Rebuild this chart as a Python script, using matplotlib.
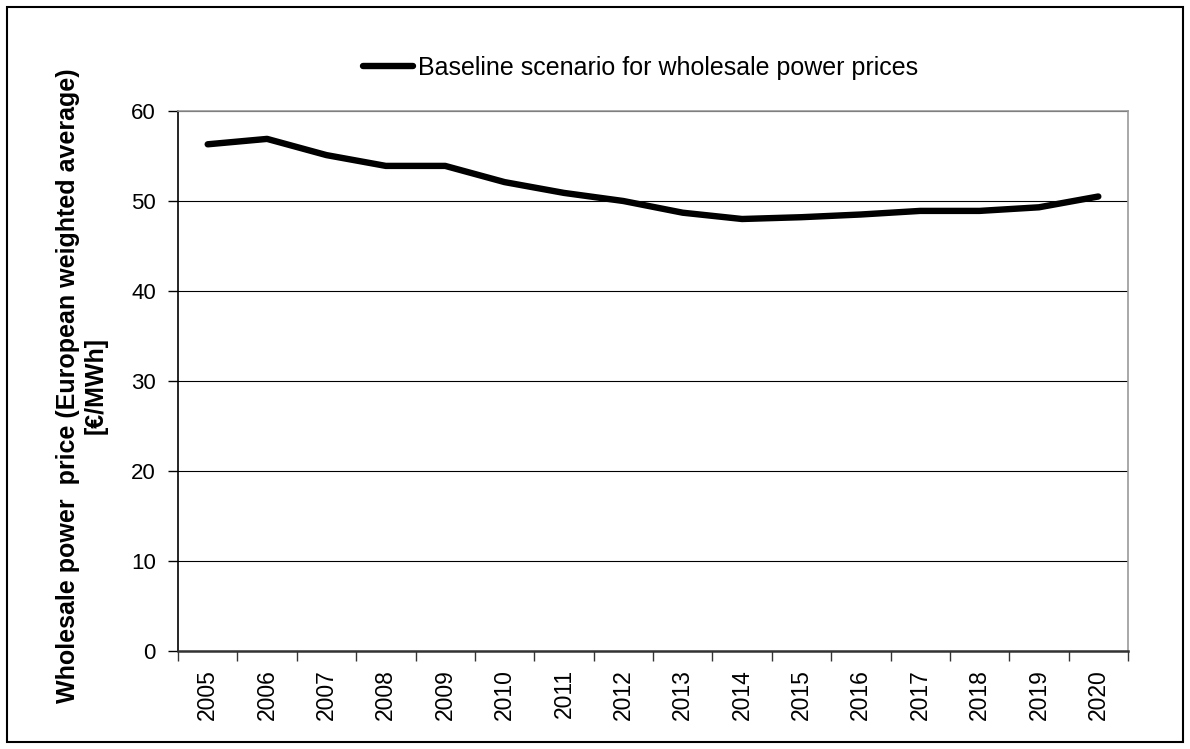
import matplotlib
matplotlib.use("Agg")
import matplotlib.pyplot as plt
from matplotlib.patches import Rectangle
from matplotlib.lines import Line2D

plt.rcParams['font.family'] = ['Liberation Sans', 'DejaVu Sans']

years = ["2005", "2006", "2007", "2008", "2009", "2010", "2011", "2012",
         "2013", "2014", "2015", "2016", "2017", "2018", "2019", "2020"]
prices = [56.3, 56.9, 55.1, 53.9, 53.9, 52.1, 50.9, 50.0,
          48.7, 48.0, 48.2, 48.5, 48.9, 48.9, 49.3, 50.5]
y_ticks = [0, 10, 20, 30, 40, 50, 60]
series_label = "Baseline scenario for wholesale power prices"
y_label = "Wholesale power  price (European weighted average)\n[€/MWh]"

W, H = 1190, 749
fig = plt.figure(figsize=(W / 100, H / 100), dpi=100)
ax = fig.add_axes([178 / W, 1 - 651 / H, (1128 - 178) / W, (651 - 111) / H])

# outer frame around the whole chart
fig.patches.append(Rectangle((7 / W, 7 / H), (1183 - 7) / W, (742 - 7) / H,
                             transform=fig.transFigure, fill=False,
                             edgecolor='black', linewidth=1.5))

x = list(range(len(years)))
ax.plot(x, prices, color='black', linewidth=4.6, solid_capstyle='round',
        solid_joinstyle='round', zorder=3)

ax.set_xlim(-0.5, len(years) - 0.5)
ax.set_ylim(0, 60)
ax.set_yticks(y_ticks)
ax.set_yticklabels([str(v) for v in y_ticks], fontsize=16)
ax.yaxis.grid(True, color='black', linewidth=0.8)
ax.set_axisbelow(True)

# category boundaries carry the tick marks, labels sit in the middle
ax.set_xticks([i - 0.5 for i in range(len(years) + 1)])
ax.set_xticklabels([])
ax.set_xticks(x, minor=True)
ax.set_xticklabels(years, minor=True, rotation=90, fontsize=16.5)
ax.tick_params(axis='x', which='major', length=7, width=1, color='#333333', direction='out')
ax.tick_params(axis='x', which='minor', length=0, pad=13)
ax.tick_params(axis='y', length=7, width=1, direction='out', pad=9)

ax.spines['left'].set_color('black')
ax.spines['left'].set_linewidth(1.2)
ax.spines['bottom'].set_color('#333333')
ax.spines['bottom'].set_linewidth(1.8)
ax.spines['top'].set_color('#999999')
ax.spines['right'].set_color('#999999')
ax.spines['top'].set_linewidth(1.2)
ax.spines['right'].set_linewidth(1.2)

# vertical axis title, centred in the left margin
fig.text(82 / W, 1 - 386 / H, y_label, rotation=90, ha='center', va='center',
         multialignment='center', fontsize=18, fontweight='bold', linespacing=1.2)

handle = Line2D([0], [0], color='black', linewidth=4.6, solid_capstyle='round')
fig.legend([handle], [series_label], loc='center', bbox_to_anchor=(641 / W, 1 - 68 / H),
           frameon=False, fontsize=18, handlelength=2.0, handletextpad=0.2)

fig.savefig("out.png", dpi=100)
